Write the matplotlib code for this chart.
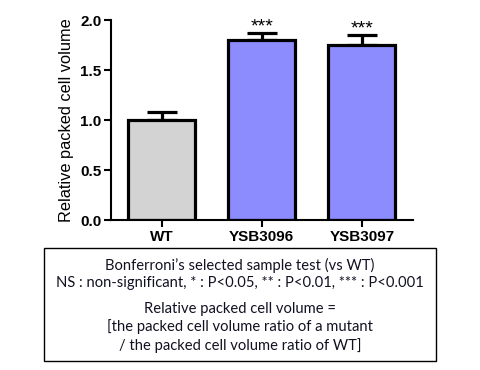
import matplotlib
matplotlib.use("Agg")
import matplotlib.pyplot as plt
from matplotlib.patches import Rectangle

categories = ["WT", "YSB3096", "YSB3097"]
values = [1.0, 1.80, 1.75]
errors = [0.08, 0.067, 0.10]
colors = ["#d3d3d3", "#8c8cff", "#8c8cff"]
stars = ["", "***", "***"]
yticks = [0.0, 0.5, 1.0, 1.5, 2.0]
box_lines = [
    "Bonferroni\u2019s selected sample test (vs WT)",
    "NS : non-significant, * : P<0.05, ** : P<0.01, *** : P<0.001",
    "Relative packed cell volume =",
    "[the packed cell volume ratio of a mutant",
    "/ the packed cell volume ratio of WT]",
]

plt.rcParams['font.family'] = ['Liberation Sans', 'DejaVu Sans']
fig = plt.figure(figsize=(4.8, 3.7), dpi=100)
ax = fig.add_axes([111/480, 1-220/370, (413-111)/480, 200/370])

x = list(range(len(categories)))
ax.bar(x, values, width=0.67, color=colors, edgecolor="black", linewidth=2.3, zorder=2)
ax.errorbar(x, values, yerr=[[0]*len(values), errors], fmt="none", ecolor="black",
            elinewidth=2.3, capsize=10.5, capthick=2.3, zorder=1)
for xi, v, e, s in zip(x, values, errors, stars):
    if s:
        ax.text(xi, v + e - 0.02, s, ha="center", va="bottom", fontsize=14)

ax.set_xlim(-0.505, 2.51)
ax.set_ylim(0, 2.0)
ax.set_yticks(yticks)
ax.set_yticklabels([f"{t:.1f}" for t in yticks])
ax.set_xticks(x)
ax.set_xticklabels(categories)
for sp in ["top", "right"]:
    ax.spines[sp].set_visible(False)
for sp in ["left", "bottom"]:
    ax.spines[sp].set_linewidth(1.5)
ax.tick_params(axis="both", direction="out", length=5, width=1.5, labelsize=11, pad=2)
for lab in ax.get_xticklabels() + ax.get_yticklabels():
    lab.set_fontweight("bold")
ax.set_ylabel("Relative packed cell volume", fontsize=11.8, labelpad=4)

# annotation box
box = Rectangle((44/480, 1-361/370), (436-44)/480, (361-248)/370, transform=fig.transFigure,
                fill=False, edgecolor="black", linewidth=1.0)
fig.patches.append(box)
ys = [265, 283, 309, 327, 346]
for t, yy in zip(box_lines, ys):
    fig.text(240/480, 1-yy/370, t, ha="center", va="center", fontsize=10.6,
             family=["Lato", "DejaVu Sans"], color="#111122")

fig.savefig("out.png", dpi=100)
